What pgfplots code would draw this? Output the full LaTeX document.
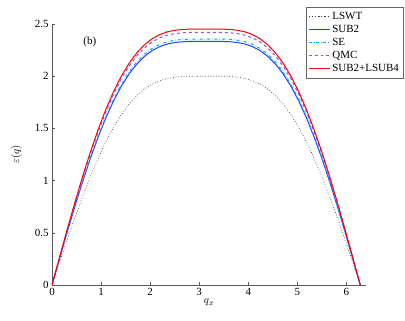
\documentclass[border=0pt]{standalone}
\usepackage{fontspec}
\setmainfont{Liberation Serif}
\usepackage{pgfplots}
\pgfplotsset{compat=1.18}
\usepackage{pgfplotstable}

\definecolor{qmcpurple}{rgb}{0.6,0.3,0.95}
\definecolor{subblue}{rgb}{0.15,0.25,1}
\newcommand{\lab}{\fontsize{11}{12}\selectfont}

% q, LSWT, SUB2, SE, QMC, SUB2+LSUB4
\pgfplotstableread{
q      lswt    sub2    se      qmc     lsub
0.0000 0.0000  0.0000  0.0000  0.0000  0.0000
0.1571 0.2216  0.2586  0.2610  0.2681  0.2717
0.3142 0.4398  0.5132  0.5181  0.5322  0.5392
0.4712 0.6512  0.7600  0.7671  0.7880  0.7984
0.6283 0.8529  0.9953  1.0047  1.0320  1.0457
0.7854 1.0420  1.2160  1.2275  1.2608  1.2775
0.9425 1.2161  1.4192  1.4326  1.4715  1.4909
1.0996 1.3733  1.6026  1.6177  1.6617  1.6837
1.2566 1.5121  1.7646  1.7813  1.8296  1.8538
1.4137 1.6318  1.9043  1.9223  1.9745  2.0006
1.5708 1.7321  2.0214  2.0404  2.0958  2.1236
1.7279 1.8134  2.1162  2.1362  2.1942  2.2232
1.8850 1.8768  2.1902  2.2109  2.2709  2.3010
2.0420 1.9240  2.2453  2.2665  2.3280  2.3588
2.1991 1.9571  2.2839  2.3055  2.3681  2.3994
2.3562 1.9784  2.3088  2.3306  2.3939  2.4255
2.5133 1.9909  2.3234  2.3453  2.4090  2.4408
2.6704 1.9970  2.3305  2.3525  2.4164  2.4483
2.8274 1.9994  2.3333  2.3553  2.4193  2.4513
2.9845 2.0000  2.3340  2.3560  2.4200  2.4520
3.1416 2.0000  2.3340  2.3560  2.4200  2.4520
3.2987 2.0000  2.3340  2.3560  2.4200  2.4520
3.4558 1.9994  2.3333  2.3553  2.4193  2.4513
3.6128 1.9970  2.3305  2.3525  2.4164  2.4483
3.7699 1.9909  2.3234  2.3453  2.4090  2.4408
3.9270 1.9784  2.3088  2.3306  2.3939  2.4255
4.0841 1.9571  2.2839  2.3055  2.3681  2.3994
4.2412 1.9240  2.2453  2.2665  2.3280  2.3588
4.3982 1.8768  2.1902  2.2109  2.2709  2.3010
4.5553 1.8134  2.1162  2.1362  2.1942  2.2232
4.7124 1.7321  2.0214  2.0404  2.0958  2.1236
4.8695 1.6318  1.9043  1.9223  1.9745  2.0006
5.0265 1.5121  1.7646  1.7813  1.8296  1.8538
5.1836 1.3733  1.6026  1.6177  1.6617  1.6837
5.3407 1.2161  1.4192  1.4326  1.4715  1.4909
5.4978 1.0420  1.2160  1.2275  1.2608  1.2775
5.6549 0.8529  0.9953  1.0047  1.0320  1.0457
5.8119 0.6512  0.7600  0.7671  0.7880  0.7984
5.9690 0.4398  0.5132  0.5181  0.5322  0.5392
6.1261 0.2216  0.2586  0.2610  0.2681  0.2717
6.2832 0.0000  0.0000  0.0000  0.0000  0.0000
}\dispdata

\begin{document}
\begin{tikzpicture}
\useasboundingbox (-52bp,-36bp) rectangle (353bp,285bp);
\begin{axis}[
    scale only axis,
    width=314bp, height=261bp,
    xmin=0, xmax=6.4, ymin=0, ymax=2.5,
    xtick={0,1,...,6},
    ytick={0,0.5,1,1.5,2,2.5},
    axis x line=bottom, axis y line=left,
    axis line style={-, draw=black!65},
    tick style={black!65},
    tick align=inside,
    major tick length=3pt,
    /pgf/number format/assume math mode=true,
    tick label style={font=\lab},
    xlabel={$q_x$}, ylabel={$\varepsilon(q)$},
    label style={font=\lab},
    xlabel style={yshift=4pt},
    ylabel style={yshift=6pt},
    legend cell align=left,
    legend style={at={(1.118,1.066)}, anchor=north east, draw=black!60,
        font=\lab, row sep=0.2pt, inner xsep=2pt, inner ysep=3.5pt},
    legend image post style={xscale=1.25, line width=1.2pt},
]
\addplot[color=black!75, dotted, line width=0.7pt] table[x=q, y=lswt] {\dispdata};
\addlegendentry{LSWT}
\addplot[color=subblue, line width=1pt] table[x=q, y=sub2] {\dispdata};
\addlegendentry{SUB2}
\addplot[color=cyan, dash dot, line width=1pt] table[x=q, y=se] {\dispdata};
\addlegendentry{SE}
\addplot[color=qmcpurple, dashed, line width=1pt] table[x=q, y=qmc] {\dispdata};
\addlegendentry{QMC}
\addplot[color=red, line width=1pt] table[x=q, y=lsub] {\dispdata};
\addlegendentry{SUB2+LSUB4}
\node[font=\lab] at (axis cs:0.77,2.33) {(b)};
\end{axis}
\end{tikzpicture}
\end{document}
